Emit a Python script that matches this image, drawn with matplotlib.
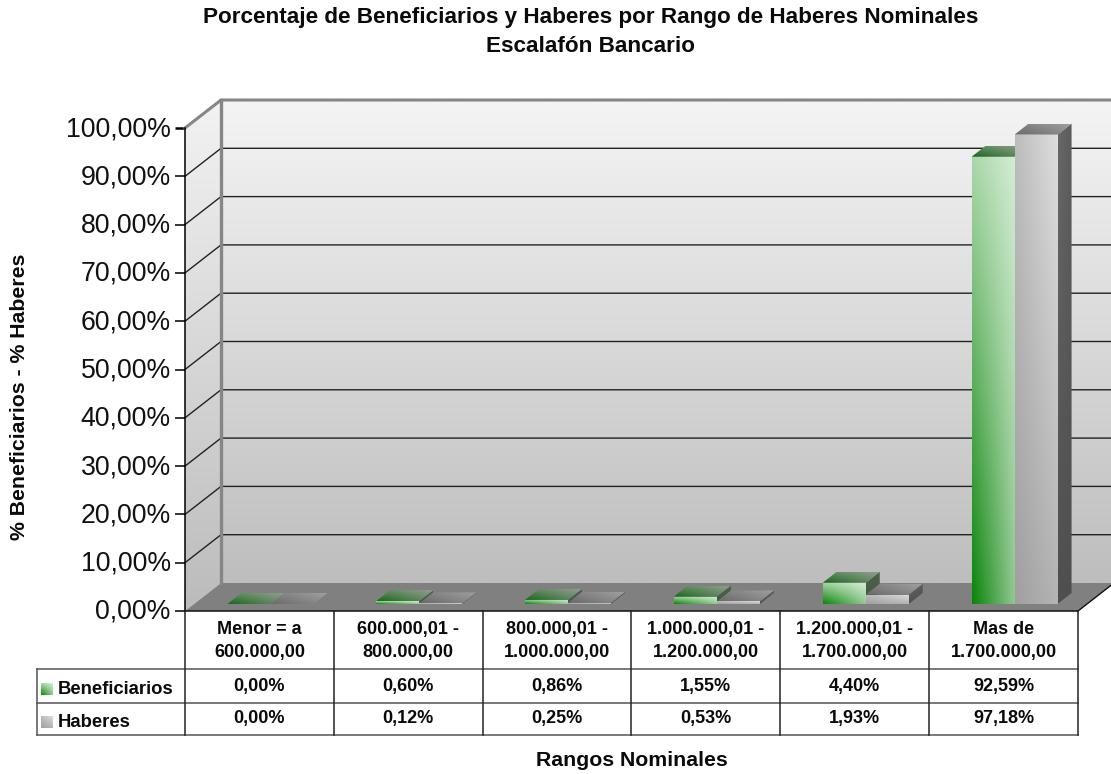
import numpy as np
import matplotlib
matplotlib.use('Agg')
from matplotlib import pyplot as plt
from matplotlib.colors import to_rgb
from matplotlib.lines import Line2D
from matplotlib.patches import Polygon
from matplotlib.transforms import ScaledTranslation

plt.rcParams['font.family'] = ['Liberation Sans', 'DejaVu Sans']

title = 'Porcentaje de Beneficiarios y Haberes por Rango de Haberes Nominales\nEscalafón Bancario'
categories = ['Menor = a\n600.000,00', '600.000,01 -\n800.000,00', '800.000,01 -\n1.000.000,00',
              '1.000.000,01 -\n1.200.000,00', '1.200.000,01 -\n1.700.000,00', 'Mas de\n1.700.000,00']
beneficiarios = [0.00, 0.60, 0.86, 1.55, 4.40, 92.59]
haberes = [0.00, 0.12, 0.25, 0.53, 1.93, 97.18]
y_ticks = [0, 10, 20, 30, 40, 50, 60, 70, 80, 90, 100]

W, H = 1111, 774
X0, Y0 = 185, 611      # front corner of the plot floor, px
CAT_W = 148.83
PX_PER_PCT = 4.83
WALL_DX, WALL_DY = 36 / CAT_W, 28 / PX_PER_PCT
BAR_W = 43 / CAT_W
BAR_DX, BAR_DY = 14 / CAT_W, 11 / PX_PER_PCT
BASE_DX, BASE_DY = 11 / CAT_W, 7 / PX_PER_PCT

GREEN_FRONT = ['#a9d6a9', '#d3edd3', '#0b850b', '#93c893']
GREEN_TOP = ['#5a8a5a', '#8e9e8e', '#1a661a', '#6b8a6b']
GREEN_SIDE = ['#50604f', '#50604f', '#3f5a3f', '#3f5a3f']
GRAY_FRONT = ['#bcbcbc', '#dedede', '#a0a0a0', '#b4b4b4']
GRAY_TOP = ['#808080', '#a0a0a0', '#6a6a6a', '#8a8a8a']
GRAY_SIDE = ['#686868', '#5c5c5c', '#4f4f4f', '#4f4f4f']


def grad_poly(ax, verts, corners, zorder):
    verts = np.array(verts)
    tl, tr, bl, br = [np.array(to_rgb(c)) for c in corners]
    u = np.linspace(0, 1, 48)[None, :, None]
    v = np.linspace(0, 1, 48)[:, None, None]
    img = (1 - v) * ((1 - u) * tl + u * tr) + v * ((1 - u) * bl + u * br)
    im = ax.imshow(img, extent=(verts[:, 0].min(), verts[:, 0].max(), verts[:, 1].min(), verts[:, 1].max()),
                   aspect='auto', interpolation='bilinear', zorder=zorder)
    im.set_clip_path(Polygon(verts, transform=ax.transData))


def draw_bar(ax, x, val, front, top, side, zorder):
    y = BASE_DY
    if val > 0:
        grad_poly(ax, [(x, y), (x + BAR_W, y), (x + BAR_W, y + val), (x, y + val)], front, zorder)
        grad_poly(ax, [(x + BAR_W, y), (x + BAR_W + BAR_DX, y + BAR_DY), (x + BAR_W + BAR_DX, y + val + BAR_DY),
                       (x + BAR_W, y + val)], side, zorder)
    grad_poly(ax, [(x, y + val), (x + BAR_W, y + val), (x + BAR_W + BAR_DX, y + val + BAR_DY),
                   (x + BAR_DX, y + val + BAR_DY)], top, zorder + 0.1)


fig = plt.figure(figsize=(W / 100, H / 100), dpi=100)
ax = fig.add_axes([0, 0, 1, 1])
ax.patch.set_visible(False)

# walls and floor
grad_poly(ax, [(WALL_DX, WALL_DY), (6 + WALL_DX, WALL_DY), (6 + WALL_DX, 100 + WALL_DY), (WALL_DX, 100 + WALL_DY)],
          ['#f4f4f4', '#f4f4f4', '#bebebe', '#bebebe'], 1)
grad_poly(ax, [(0, 0), (WALL_DX, WALL_DY), (WALL_DX, 100 + WALL_DY), (0, 100)],
          ['#f2f2f2', '#f2f2f2', '#bcbcbc', '#bcbcbc'], 1)
ax.add_patch(Polygon([(0, 0), (6, 0), (6 + WALL_DX, WALL_DY), (WALL_DX, WALL_DY)], fc='#808080', ec='none', zorder=2))

# gridlines carried round the side wall
for t in y_ticks[1:-1]:
    ax.plot([0, WALL_DX, 6 + WALL_DX], [t, t + WALL_DY, t + WALL_DY], color='#222222', lw=1.0, zorder=3,
            solid_joinstyle='miter')
ax.plot([0, WALL_DX, 6 + WALL_DX], [100, 100 + WALL_DY, 100 + WALL_DY], color='#868686', lw=2.2, zorder=3)
ax.plot([WALL_DX, WALL_DX], [WALL_DY, 100 + WALL_DY], color='#868686', lw=2.4, zorder=3)
ax.plot([6, 6 + WALL_DX], [0, WALL_DY], color='#111111', lw=1, zorder=3)

for i in range(len(categories)):
    x = i + 0.5 - BAR_W + BASE_DX
    draw_bar(ax, x, beneficiarios[i], GREEN_FRONT, GREEN_TOP, GREEN_SIDE, 4 + i)
    draw_bar(ax, x + BAR_W, haberes[i], GRAY_FRONT, GRAY_TOP, GRAY_SIDE, 4.5 + i)

ax.set_xlim(-X0 / CAT_W, (W - X0) / CAT_W)
ax.set_ylim(-(H - Y0) / PX_PER_PCT, Y0 / PX_PER_PCT)

for s in ['top', 'right', 'bottom']:
    ax.spines[s].set_visible(False)
ax.spines['left'].set_position(('data', 0))
ax.spines['left'].set_bounds(0, 100)
ax.spines['left'].set_linewidth(1.1)
ax.spines['left'].set_zorder(20)
ax.set_xticks([])
ax.set_yticks(y_ticks)
ax.set_yticklabels([('%.2f%%' % t).replace('.', ',') for t in y_ticks], fontsize=19.2, color='#111111')
ax.tick_params(axis='y', length=7.2, width=1.1, pad=3)
up = ScaledTranslation(0, 2 / 100, fig.dpi_scale_trans)
for lab in ax.get_yticklabels():
    lab.set_transform(lab.get_transform() + up)
ax.yaxis.get_major_ticks()[-1].tick1line.set_color('#868686')
ax.yaxis.get_major_ticks()[-1].tick1line.set_markeredgewidth(1.8)


def px(x, y):
    return x / W, 1 - y / H


def hline(y, x1, x2, color='#222222', lw=1.1):
    (a, b), (c, d) = px(x1, y), px(x2, y)
    fig.add_artist(Line2D([a, c], [b, d], color=color, lw=lw))


def vline(x, y1, y2, color='#222222', lw=1.1):
    (a, b), (c, d) = px(x, y1), px(x, y2)
    fig.add_artist(Line2D([a, c], [b, d], color=color, lw=lw))


def bold(x, y, s, **kw):
    a, b = px(x, y)
    fig.text(a, b, s, fontweight='bold', color='#0a0a0a', **kw)


# data table under the plot
col_x = [X0 + CAT_W * i for i in range(7)]
hline(611, X0, col_x[-1], color='#111111')
hline(669, 36.5, col_x[-1], color='#555555')
hline(702.5, 36.5, col_x[-1], color='#555555')
hline(735, 36.5, col_x[-1], color='#555555')
vline(36.5, 669, 735, color='#555555')
for x in col_x:
    vline(x, 611, 735)

for i, cat in enumerate(categories):
    cx = X0 + CAT_W * (i + 0.5)
    bold(cx, 641, cat, fontsize=13, ha='center', va='center', linespacing=1.45)
    bold(cx, 686.5, ('%.2f%%' % beneficiarios[i]).replace('.', ','), fontsize=13, ha='center', va='center')
    bold(cx, 719, ('%.2f%%' % haberes[i]).replace('.', ','), fontsize=13, ha='center', va='center')

bold(58, 689, 'Beneficiarios', fontsize=13.3, ha='left', va='center')
bold(58, 722.5, 'Haberes', fontsize=13.3, ha='left', va='center')

for y, corners in [(683, GREEN_FRONT), (716, GRAY_FRONT)]:
    kax = fig.add_axes([41 / W, 1 - (y + 12) / H, 12 / W, 12 / H])
    kax.axis('off')
    grad_poly(kax, [(0, 0), (1, 0), (1, 1), (0, 1)], corners, 1)
    kax.set_xlim(0, 1)
    kax.set_ylim(0, 1)

a, b = px(591, 32)
fig.text(a, b, title, fontsize=16.2, fontweight='bold', ha='center', va='center', linespacing=1.47, color='#0a0a0a')
bold(631.5, 761, 'Rangos Nominales', fontsize=15.3, ha='center', va='center')
bold(20, 397, '% Beneficiarios - % Haberes', fontsize=15.3, ha='center', va='center', rotation=90)

fig.savefig('out.png', dpi=100)
